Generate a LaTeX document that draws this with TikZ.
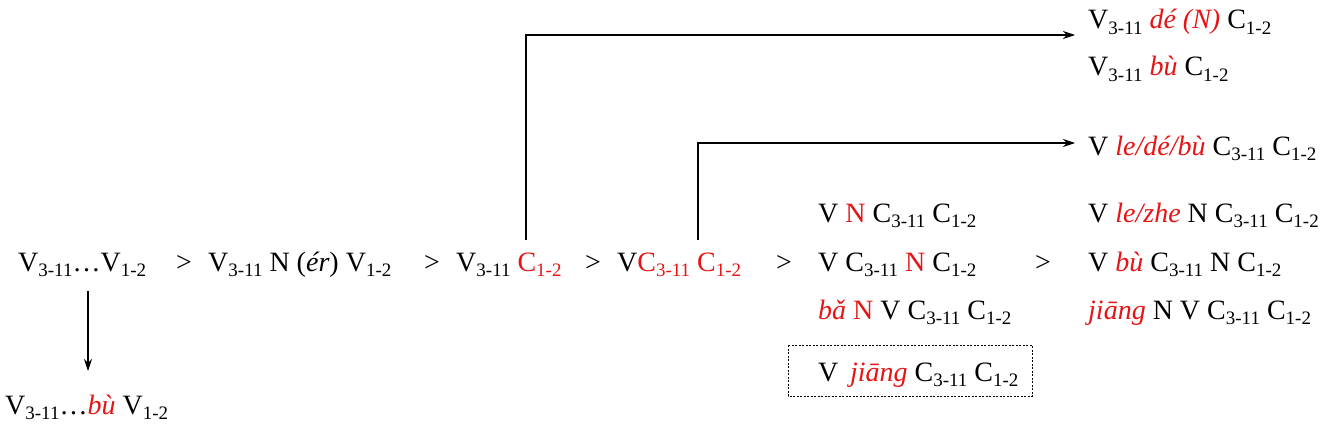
\documentclass[tikz,border=0pt]{standalone}
\usepackage{fontspec}
\setmainfont{Liberation Serif}
\usetikzlibrary{arrows.meta}
\definecolor{rd}{RGB}{230,20,20}
\newcommand\sbs[1]{\raisebox{-0.4ex}{\fontsize{19}{19}\selectfont #1}}
\newcommand\rr[1]{\textcolor{rd}{#1}}
\newcommand\ri[1]{\textcolor{rd}{\itshape #1}}
\begin{document}
\begin{tikzpicture}[x=1pt,y=-1pt,
  txt/.style={inner sep=0pt,anchor=base west,font=\fontsize{28}{32}\selectfont},
  gt/.style={inner sep=0pt,anchor=base,font=\fontsize{28}{32}\selectfont},
  arr/.style={-{Stealth[length=12pt,width=8pt]},line width=1.2pt}]
\useasboundingbox (0,0) rectangle (1328,428);
\node[txt] (n1) at (18,271) {V\sbs{3-11}\ldots V\sbs{1-2}};
\node[gt] (g1) at (184,271) {>};
\node[txt] (n2) at (208,271) {V\sbs{3-11} N (\textit{ér}) V\sbs{1-2}};
\node[gt] (g2) at (432,271) {>};
\node[txt] (n3) at (456,271) {V\sbs{3-11} \rr{C\sbs{1-2}}};
\node[gt] (g3) at (593,271) {>};
\node[txt] (n4) at (617,271) {V\rr{C\sbs{3-11}} \rr{C\sbs{1-2}}};
\node[gt] (g4) at (784,271) {>};
\node[txt] (c1) at (818,222) {V \rr{N} C\sbs{3-11} C\sbs{1-2}};
\node[txt] (c2) at (818,271) {V C\sbs{3-11} \rr{N} C\sbs{1-2}};
\node[txt] (c3) at (818,319) {\ri{bǎ} \rr{N} V C\sbs{3-11} C\sbs{1-2}};
\node[txt] (c4) at (818,381) {V \,\ri{jiāng} C\sbs{3-11} C\sbs{1-2}};
\draw[dashed,line width=0.6pt,dash pattern=on 2pt off 1.5pt] (788,345) rectangle (1032,396);
\node[gt] (g5) at (1043,271) {>};
\node[txt] (d1) at (1088,222) {V \ri{le/zhe} N C\sbs{3-11} C\sbs{1-2}};
\node[txt] (d2) at (1088,271) {V \ri{bù} C\sbs{3-11} N C\sbs{1-2}};
\node[txt] (d3) at (1088,319) {\ri{jiāng} N V C\sbs{3-11} C\sbs{1-2}};
\node[txt] (t1) at (1088,29) {V\sbs{3-11} \ri{dé (N)} C\sbs{1-2}};
\node[txt] (t2) at (1088,76) {V\sbs{3-11} \ri{bù} C\sbs{1-2}};
\node[txt] (t3) at (1088,155) {V \ri{le/dé/bù} C\sbs{3-11} C\sbs{1-2}};
\node[txt] (b1) at (5,414) {V\sbs{3-11}\ldots\ri{bù} V\sbs{1-2}};
\coordinate (s1) at (526,240);
\coordinate (e1) at (1075,35);
\coordinate (s2) at (698,240);
\coordinate (e2) at (1075,143);
\coordinate (s3) at (88,291);
\coordinate (e3) at (88,371);
\draw[arr] (s1) |- (e1);
\draw[arr] (s2) |- (e2);
\draw[arr] (s3) -- (e3);
\end{tikzpicture}
\end{document}
